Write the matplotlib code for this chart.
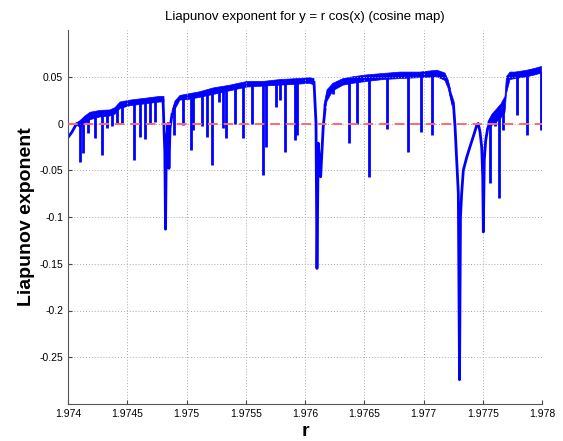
import numpy as np
import matplotlib
matplotlib.use("Agg")
import matplotlib.pyplot as plt

nan = np.nan

# chaotic band (NaN separates the segments): r, upper edge, lower edge
band_r = [1.974076, 1.974101, 1.974143, 1.974186, 1.974270, 1.974354, 1.974397,
          1.974439, 1.974523, 1.974650, 1.974776, 1.974810, nan,
          1.974878, 1.974903, 1.974945, 1.975030, 1.975114, 1.975224, 1.975367,
          1.975511, 1.975646, 1.975789, 1.975932, 1.976042, 1.976076, nan,
          1.976160, 1.976186, 1.976236, 1.976321, 1.976405, 1.976523, 1.976658,
          1.976802, 1.976970, 1.977114, 1.977181, 1.977207, 1.977224, 1.977241, nan,
          1.977544, 1.977578, 1.977620, 1.977654, 1.977688, 1.977700, 1.977730,
          1.977772, 1.977873, 1.977941, 1.977996]
band_hi = [0.001, 0.003, 0.008, 0.012, 0.014, 0.0145, 0.017,
           0.023, 0.025, 0.027, 0.029, 0.029, nan,
           0.014, 0.024, 0.030, 0.032, 0.034, 0.038, 0.041,
           0.045, 0.045, 0.047, 0.048, 0.049, 0.048, nan,
           0.020, 0.036, 0.043, 0.048, 0.050, 0.052, 0.0535,
           0.055, 0.055, 0.057, 0.054, 0.047, 0.039, 0.028, nan,
           0.002, 0.010, 0.016, 0.021, 0.029, 0.050, 0.055,
           0.055, 0.057, 0.059, 0.061]
band_lo = [-0.002, -0.004, 0.000, 0.004, 0.007, 0.008, 0.010,
           0.016, 0.019, 0.021, 0.023, 0.023, nan,
           0.006, 0.015, 0.025, 0.026, 0.028, 0.031, 0.035,
           0.039, 0.040, 0.041, 0.042, 0.043, 0.041, nan,
           0.006, 0.024, 0.035, 0.041, 0.043, 0.045, 0.047,
           0.048, 0.049, 0.050, 0.046, 0.038, 0.029, 0.019, nan,
           -0.006, -0.002, 0.002, 0.006, 0.012, 0.032, 0.047,
           0.048, 0.050, 0.052, 0.054]

# smooth parts and the wide dips / periodic windows
line_r = [1.974000, 1.974034, 1.974073, 1.974084, nan,
          1.974802, 1.974817, 1.974823, 1.974830, 1.974844, 1.974852, 1.974861, 1.974878, nan,
          1.976076, 1.976093, 1.976101, 1.976112, 1.976132, 1.976154, 1.976169, nan,
          1.977232, 1.977252, 1.977266, 1.977280, 1.977294, 1.977304, 1.977312,
          1.977322, 1.977336, 1.977365, 1.977392, 1.977420, 1.977449, 1.977462,
          1.977477, 1.977491, 1.977500, 1.977505, 1.977513, 1.977525, 1.977542, 1.977561]
line_lam = [-0.015, -0.009, 0.000, 0.000, nan,
            0.025, -0.030, -0.113, -0.020, 0.000, -0.048, -0.005, 0.010, nan,
            0.044, 0.000, -0.155, -0.021, -0.057, -0.003, 0.015, nan,
            0.030, 0.022, -0.003, -0.039, -0.075, -0.274, -0.100,
            -0.075, -0.050, -0.036, -0.025, -0.014, -0.002, 0.000,
            -0.009, -0.025, -0.057, -0.116, -0.039, -0.018, -0.005, 0.000]

# narrow spikes: position, top, bottom
dip_r = [1.974101, 1.974127, 1.974169, 1.974228, 1.974284, 1.974327, 1.974369,
         1.974411, 1.974453, 1.974557, 1.974608, 1.974650, 1.974692, 1.974734,
         1.974895, 1.974973, 1.975038, 1.975055, 1.975128, 1.975176, 1.975213,
         1.975277, 1.975305, 1.975333, 1.975409, 1.975479, 1.975550, 1.975648,
         1.975671, 1.975753, 1.975789, 1.975834, 1.975916, 1.975930,
         1.976239, 1.976374, 1.976441, 1.976543, 1.976695, 1.976872, 1.976976,
         1.977074, 1.977561, 1.977603, 1.977640, 1.977673, 1.977792, 1.977871,
         1.977989]
dip_top = [0.000, 0.004, 0.006, 0.009, 0.010, 0.011, 0.012,
           0.016, 0.019, 0.022, 0.023, 0.024, 0.025, 0.025,
           0.020, 0.027, 0.029, 0.029, 0.031, 0.032, 0.033,
           0.035, 0.035, 0.036, 0.038, 0.040, 0.041, 0.042,
           0.042, 0.043, 0.043, 0.043, 0.044, 0.044,
           0.040, 0.045, 0.046, 0.048, 0.049, 0.051, 0.051,
           0.052, 0.000, 0.005, 0.010, 0.015, 0.051, 0.053,
           0.056]
dip_bot = [-0.041, -0.032, -0.010, -0.016, -0.034, -0.005, -0.003,
           0.000, 0.001, -0.039, -0.014, -0.017, 0.000, 0.002,
           -0.012, -0.002, -0.028, -0.007, -0.003, -0.014, -0.044,
           0.023, -0.005, -0.016, 0.000, -0.015, 0.000, -0.055,
           -0.025, 0.018, 0.025, -0.030, -0.018, -0.012,
           0.032, -0.021, 0.000, -0.057, -0.006, -0.030, -0.009,
           -0.012, -0.064, -0.003, -0.080, -0.007, 0.009, -0.012,
           -0.007]

x_ticks = [1.974, 1.9745, 1.975, 1.9755, 1.976, 1.9765, 1.977, 1.9775, 1.978]
x_labels = ["1.974", "1.9745", "1.975", "1.9755", "1.976", "1.9765", "1.977", "1.9775", "1.978"]
y_ticks = [-0.25, -0.2, -0.15, -0.1, -0.05, 0, 0.05]
y_labels = ["-0.25", "-0.2", "-0.15", "-0.1", "-0.05", "0", "0.05"]

plt.rcParams["font.family"] = ["Liberation Sans", "DejaVu Sans"]

fig = plt.figure(figsize=(5.63, 4.41), dpi=100)
ax = fig.add_axes([68 / 563, 37 / 441, 474 / 563, 374 / 441])

blue = "#0000ff"
ax.fill_between(band_r, band_lo, band_hi, color=blue, linewidth=0.5, edgecolor=blue)
ax.plot(line_r, line_lam, color=blue, linewidth=2.0, solid_joinstyle="round")
ax.vlines(dip_r, dip_bot, dip_top, color=blue, linewidth=2.0)

# zero reference
ax.axhline(0, color="#ff6a6a", linestyle=(0, (5, 3)), linewidth=1.4, zorder=5)

ax.set_xlim(1.974, 1.978)
ax.set_ylim(-0.3, 0.1)
ax.set_xticks(x_ticks)
ax.set_xticklabels(x_labels)
ax.set_yticks(y_ticks)
ax.set_yticklabels(y_labels)
ax.tick_params(direction="in", length=3, labelsize=7.5, color="#444444")
ax.grid(True, linestyle=(0, (1, 2)), color="#aaaaaa", linewidth=0.7)

for side in ["top", "right"]:
    ax.spines[side].set_visible(False)
for side in ["left", "bottom"]:
    ax.spines[side].set_color("#555555")
    ax.spines[side].set_linewidth(0.8)

ax.set_title("Liapunov exponent for y = r cos(x) (cosine map)", fontsize=9.5, pad=7)
ax.set_xlabel("r", fontsize=14, fontweight="bold", labelpad=3)
ax.set_ylabel("Liapunov exponent", fontsize=14, fontweight="bold", labelpad=3)

fig.savefig("out.png", dpi=100)
